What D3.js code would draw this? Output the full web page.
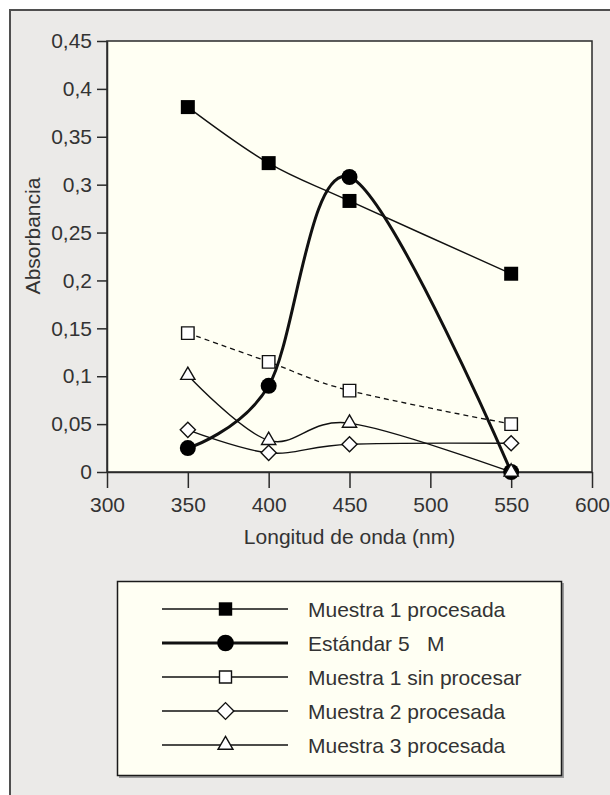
<!DOCTYPE html>
<html>
<head>
<meta charset="utf-8">
<script src="https://cdn.jsdelivr.net/npm/d3@7"></script>
<style>
  body { margin: 0; background: #fff; }
  text { font-family: "Liberation Sans", Arial, sans-serif; fill: #333; }
</style>
</head>
<body>
<div class="holder"></div>
<script>
// wavelengths (nm)
var wavelengths = [350, 400, 450, 550]

var muestra1Proc = [0.381, 0.3225, 0.283, 0.207]
var estandar = [0.025, 0.090, 0.308, 0.0]
var muestra1SinProc = [0.145, 0.115, 0.085, 0.050]
var muestra2Proc = [0.044, 0.020, 0.029, 0.030]
var muestra3Proc = [0.101, 0.033, 0.051, 0.0]

var seriesNames = ['Muestra 1 procesada', 'Estándar 5\u00a0\u00a0\u00a0M', 'Muestra 1 sin procesar', 'Muestra 2 procesada', 'Muestra 3 procesada']

var xTicks = [300, 350, 400, 450, 500, 550, 600]
var yTicks = [0, 0.05, 0.1, 0.15, 0.2, 0.25, 0.3, 0.35, 0.4, 0.45]

var width = 610,
height = 795

var es = d3.formatLocale({decimal: ',', thousands: '.', grouping: [3], currency: ['', '€']})
var fmt = es.format('')

var svg = d3.select('.holder')
  .append('svg')
  .attr('width', width)
  .attr('height', height)

// outer grey frame
svg.append('rect')
  .attr('x', 10).attr('y', 10)
  .attr('width', 640).attr('height', 820)
  .attr('fill', '#ebeae8')
  .attr('stroke', '#4f4f4f')
  .attr('stroke-width', 2)

var xScale = d3.scaleLinear()
  .domain([300, 600])
  .range([107, 592])

var yScale = d3.scaleLinear()
  .domain([0, 0.45])
  .range([472, 41])

// plot background
svg.append('rect')
  .attr('x', xScale(300)).attr('y', yScale(0.45))
  .attr('width', xScale(600) - xScale(300))
  .attr('height', yScale(0) - yScale(0.45))
  .attr('fill', '#fffff3')
  .attr('stroke', '#2a2a2a')
  .attr('stroke-width', 1.5)

var xAxis = d3.axisBottom(xScale)
  .tickValues(xTicks)
  .tickFormat(d3.format('d'))
  .tickSize(16)
  .tickSizeOuter(0)
  .tickPadding(9)

var yAxis = d3.axisLeft(yScale)
  .tickValues(yTicks)
  .tickFormat(fmt)
  .tickSize(10)
  .tickSizeOuter(0)
  .tickPadding(5)

var gx = svg.append('g')
  .attr('transform', 'translate(0,' + yScale(0) + ')')
  .call(xAxis)

var gy = svg.append('g')
  .attr('transform', 'translate(' + xScale(300) + ',0)')
  .call(yAxis)

svg.selectAll('.domain').attr('stroke', '#2a2a2a').attr('stroke-width', 1.5)
svg.selectAll('.tick line').attr('stroke', '#2a2a2a').attr('stroke-width', 1.5)
svg.selectAll('.tick text')
  .style('font-family', '"Liberation Sans", Arial, sans-serif')
  .style('font-size', '21px')
  .attr('fill', '#333')

svg.append('text')
  .attr('x', (xScale(300) + xScale(600)) / 2)
  .attr('y', 544)
  .attr('text-anchor', 'middle')
  .style('font-size', '21px')
  .text('Longitud de onda (nm)')

svg.append('text')
  .attr('transform', 'translate(40,236) rotate(-90)')
  .attr('text-anchor', 'middle')
  .style('font-size', '21px')
  .text('Absorbancia')

var series = [
  { name: seriesNames[0], values: muestra1Proc, shape: 'square', fill: '#000', width: 1.4, size: 196, dash: null },
  { name: seriesNames[1], values: estandar, shape: 'circle', fill: '#000', width: 3, size: 201, dash: null },
  { name: seriesNames[2], values: muestra1SinProc, shape: 'square', fill: '#fff', width: 1.3, size: 156, dash: '5,4' },
  { name: seriesNames[3], values: muestra2Proc, shape: 'diamond', fill: '#fff', width: 1.4, size: 115, dash: null },
  { name: seriesNames[4], values: muestra3Proc, shape: 'triangle', fill: '#fff', width: 1.4, size: 88, dash: null }
]

function symbolPath(shape, size) {
  var t = shape == 'circle' ? d3.symbolCircle : shape == 'triangle' ? d3.symbolTriangle : d3.symbolSquare
  return d3.symbol().type(t).size(size)()
}

var line = d3.line()
  .x(function(d, i) { return xScale(wavelengths[i]) })
  .y(function(d) { return yScale(d) })
  .curve(d3.curveCardinal.tension(0))

// lines first, markers on top
series.forEach(function(s) {
  svg.append('path')
    .attr('d', line(s.values))
    .attr('fill', 'none')
    .attr('stroke', '#111')
    .attr('stroke-width', s.width)
    .attr('stroke-dasharray', s.dash)
})

series.forEach(function(s) {
  svg.selectAll(null)
    .data(s.values)
    .enter()
    .append('path')
    .attr('d', symbolPath(s.shape, s.size))
    .attr('transform', function(d, i) {
      return 'translate(' + xScale(wavelengths[i]) + ',' + yScale(d) + ')' + (s.shape == 'diamond' ? ' rotate(45)' : '')
    })
    .attr('fill', s.fill)
    .attr('stroke', '#111')
    .attr('stroke-width', s.fill == '#000' ? 0 : 1.4)
})

// legend
var legend = svg.append('g')

legend.append('rect')
  .attr('x', 119).attr('y', 583)
  .attr('width', 445).attr('height', 195)
  .attr('fill', '#9a9a9a')

legend.append('rect')
  .attr('x', 117.5).attr('y', 581.5)
  .attr('width', 444).attr('height', 194)
  .attr('fill', '#fffff3')
  .attr('stroke', '#1a1a1a')
  .attr('stroke-width', 1.5)

var legendSizes = [180, 218, 144, 140, 97]

var row = legend.selectAll('.row')
  .data(series)
  .enter()
  .append('g')
  .attr('class', 'row')
  .attr('transform', function(d, i) { return 'translate(0,' + (609 + i * 34) + ')' })

row.append('line')
  .attr('x1', 162).attr('x2', 288)
  .attr('stroke', '#111')
  .attr('stroke-width', function(d) { return d.width == 3 ? 3 : 1.4 })

row.append('path')
  .attr('d', function(d, i) { return symbolPath(d.shape, legendSizes[i]) })
  .attr('transform', function(d) { return 'translate(225.5,0)' + (d.shape == 'diamond' ? ' rotate(45)' : '') })
  .attr('fill', function(d) { return d.fill })
  .attr('stroke', '#111')
  .attr('stroke-width', function(d) { return d.fill == '#000' ? 0 : 1.4 })

row.append('text')
  .attr('x', 308)
  .attr('dy', '0.36em')
  .style('font-size', '21px')
  .style('white-space', 'pre')
  .text(function(d) { return d.name })
</script>
</body>
</html>
